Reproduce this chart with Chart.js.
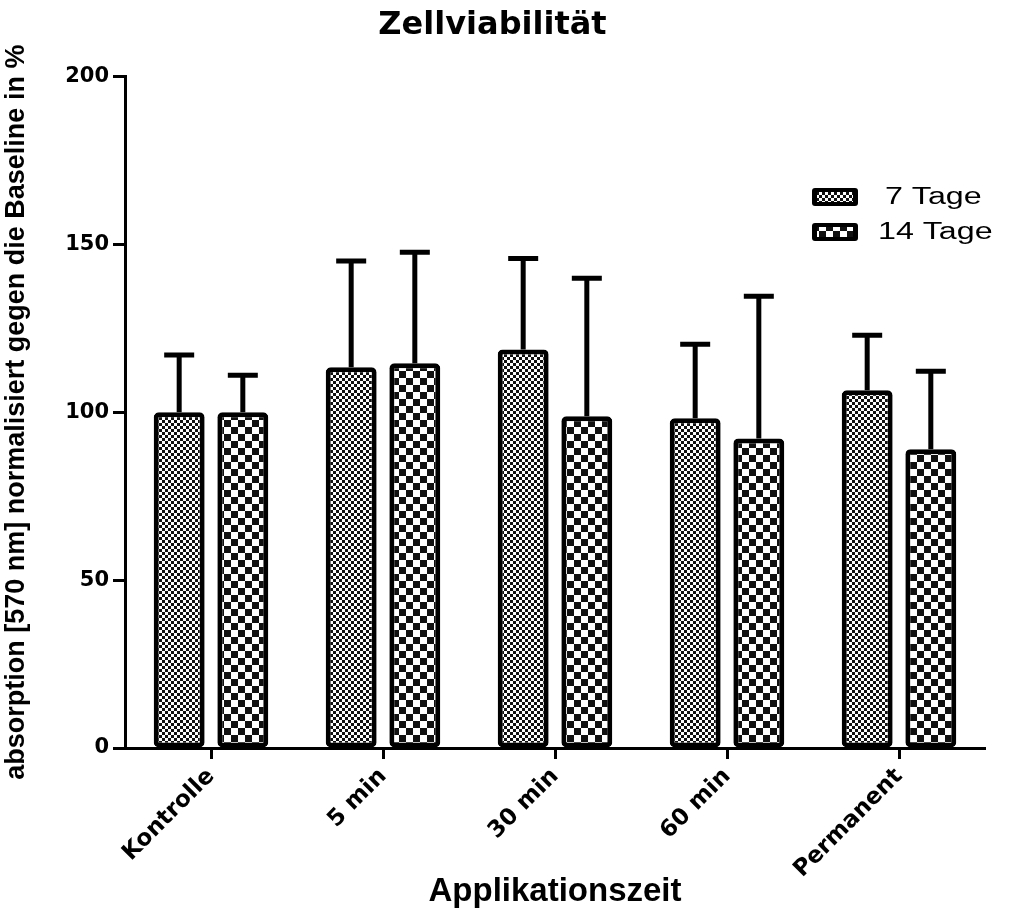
<!DOCTYPE html>
<html>
<head>
<meta charset="utf-8">
<script src="https://cdn.jsdelivr.net/npm/chart.js@4.4.0/dist/chart.umd.min.js"></script>
<style>
  html, body { margin: 0; padding: 0; background: #fff; }
  #wrap { width: 1009px; height: 912px; }
</style>
</head>
<body>
<div id="wrap"><canvas id="viab" width="1009" height="912"></canvas></div>
<script>
// values (mean and upper SD, in %)
const categories = ['Kontrolle', '5 min', '30 min', '60 min', 'Permanent'];
const seriesNames = ['7 Tage', '14 Tage'];
const tage7 = [100, 113.4, 118.7, 98.2, 106.5];
const tage14 = [100, 114.6, 98.8, 92.2, 89];
const sd7 = [17, 31.6, 27.1, 22, 16.4];
const sd14 = [11, 33, 41.1, 42.3, 23.2];
const yTicks = [0, 50, 100, 150, 200];

// checkerboard fill, cell = size of one square in px
function checker(cell) {
    const c = document.createElement('canvas');
    c.width = cell * 2;
    c.height = cell * 2;
    const g = c.getContext('2d');
    g.fillStyle = '#fff';
    g.fillRect(0, 0, c.width, c.height);
    g.fillStyle = '#111';
    g.fillRect(0, 0, cell, cell);
    g.fillRect(cell, cell, cell, cell);
    return g.createPattern(c, 'repeat');
}

const fine = checker(3);
const coarse = checker(7);

// upward error bars only
const errorBars = {
    id: 'errorBars',
    afterDatasetsDraw(chart) {
        const ctx = chart.ctx;
        const yScale = chart.scales.y;
        const sds = [sd7, sd14];
        ctx.save();
        ctx.strokeStyle = '#000';
        ctx.lineWidth = 5;
        chart.data.datasets.forEach((ds, di) => {
            const meta = chart.getDatasetMeta(di);
            meta.data.forEach((bar, i) => {
                const top = yScale.getPixelForValue(ds.data[i] + sds[di][i]);
                ctx.beginPath();
                ctx.moveTo(bar.x, bar.y);
                ctx.lineTo(bar.x, top);
                ctx.moveTo(bar.x - 15, top);
                ctx.lineTo(bar.x + 15, top);
                ctx.stroke();
            });
        });
        ctx.restore();
    }
};

// legend drawn inside the plot, top right (text is stretched wide like the original)
const patternLegend = {
    id: 'patternLegend',
    afterDraw(chart) {
        const ctx = chart.ctx;
        const items = [
            { fill: fine, label: seriesNames[0], y: 188, tx: 885 },
            { fill: coarse, label: seriesNames[1], y: 223, tx: 878 }
        ];
        ctx.save();
        items.forEach(it => {
            ctx.fillStyle = '#000';
            ctx.beginPath();
            ctx.roundRect(812, it.y, 46, 18, 3);
            ctx.fill();
            ctx.fillStyle = it.fill;
            ctx.fillRect(817, it.y + 4, 36, 10);
            ctx.save();
            ctx.translate(it.tx, it.y + 10);
            ctx.scale(1.4, 1);
            ctx.fillStyle = '#000';
            ctx.font = '23px "Liberation Sans", Arial, sans-serif';
            ctx.textBaseline = 'middle';
            ctx.textAlign = 'left';
            ctx.fillText(it.label, 0, 0);
            ctx.restore();
        });
        ctx.restore();
    }
};

new Chart(document.getElementById('viab').getContext('2d'), {
    type: 'bar',
    data: {
        labels: categories,
        datasets: [
            {
                label: seriesNames[0],
                data: tage7,
                backgroundColor: fine,
                borderColor: '#000',
                borderWidth: 5,
                borderRadius: 5,
                borderSkipped: false
            },
            {
                label: seriesNames[1],
                data: tage14,
                backgroundColor: coarse,
                borderColor: '#000',
                borderWidth: 5,
                borderRadius: 5,
                borderSkipped: false
            }
        ]
    },
    options: {
        responsive: false,
        animation: false,
        devicePixelRatio: 1,
        categoryPercentage: 0.74,
        barPercentage: 0.8,
        layout: { padding: { left: 0, right: 24, top: 0, bottom: 0 } },
        plugins: {
            legend: { display: false },
            tooltip: { enabled: false },
            title: {
                display: true,
                text: 'Zellviabilität',
                color: '#000',
                font: { family: '"DejaVu Sans", sans-serif', size: 32, weight: 'bold' },
                padding: { top: 6, bottom: 32 }
            }
        },
        scales: {
            x: {
                offset: true,
                border: { color: '#000', width: 3 },
                grid: {
                    offset: false,
                    drawOnChartArea: false,
                    drawTicks: true,
                    tickLength: 11,
                    tickWidth: 3,
                    tickColor: '#000'
                },
                ticks: {
                    color: '#000',
                    maxRotation: 45,
                    minRotation: 45,
                    padding: 4,
                    font: { family: '"DejaVu Sans", sans-serif', size: 23, weight: 'bold' }
                },
                title: {
                    display: true,
                    text: 'Applikationszeit',
                    color: '#000',
                    font: { family: '"Liberation Sans", Arial, sans-serif', size: 33, weight: 'bold' },
                    padding: { top: 4, bottom: 0 }
                },
                afterFit(scale) { scale.height = 164; }
            },
            y: {
                min: 0,
                max: 200,
                afterBuildTicks(scale) { scale.ticks = yTicks.map(v => ({ value: v })); },
                border: { color: '#000', width: 3 },
                grid: {
                    drawOnChartArea: false,
                    drawTicks: true,
                    tickLength: 12,
                    tickWidth: 3,
                    tickColor: '#000'
                },
                ticks: {
                    color: '#000',
                    padding: 4,
                    font: { family: '"DejaVu Sans", sans-serif', size: 21, weight: 'bold' }
                },
                title: {
                    display: true,
                    text: 'absorption [570 nm] normalisiert gegen die Baseline in %',
                    color: '#000',
                    font: { family: '"Liberation Sans", Arial, sans-serif', size: 27, weight: 'bold' },
                    padding: { top: 0, bottom: 6 }
                },
                afterFit(scale) { scale.width = 125; }
            }
        }
    },
    plugins: [errorBars, patternLegend]
});
</script>
</body>
</html>
